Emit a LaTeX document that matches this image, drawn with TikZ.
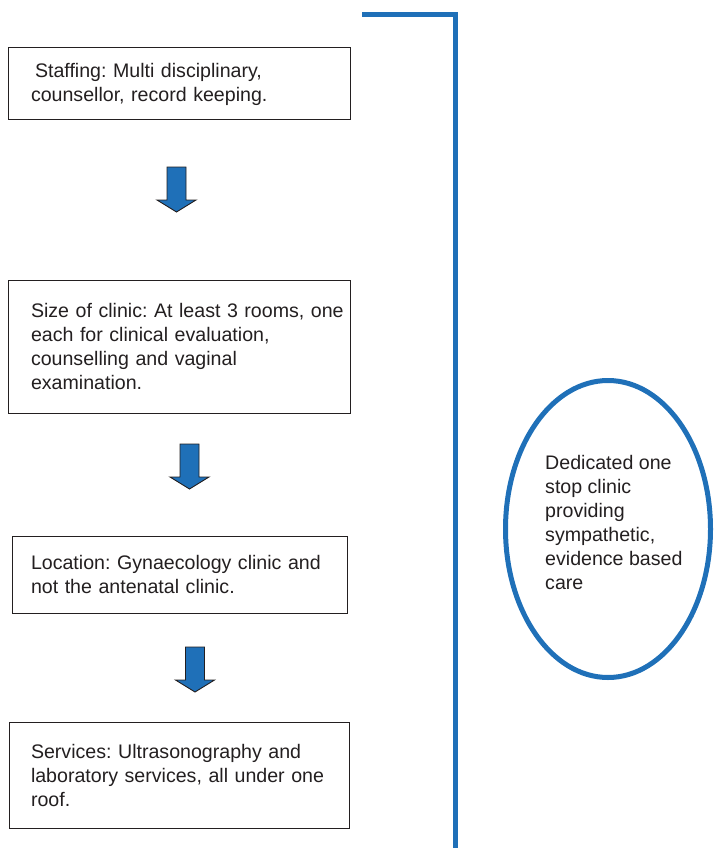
\documentclass[tikz,border=0pt]{standalone}
\usepackage{fontspec}
\setmainfont{Liberation Sans}
\frenchspacing
\usetikzlibrary{shapes.geometric}
\definecolor{clinicblue}{HTML}{1F70B8}
\definecolor{inkgray}{HTML}{231F20}
\newcommand{\boxfont}{\fontsize{19.6}{24}\selectfont}
\tikzset{
  box/.style={draw=inkgray, line width=1pt, inner xsep=23pt, inner ysep=0pt,
    text width=296pt, align=left, font=\boxfont, text=inkgray},
  blockarrow/.style={fill=clinicblue, draw=inkgray, line width=0.9pt, line join=miter},
  bracket/.style={draw=clinicblue, line width=5pt},
  oval/.style={ellipse, draw=clinicblue, line width=5pt, inner sep=0pt},
}
\begin{document}
\begin{tikzpicture}[x=1pt, y=-1pt]
\useasboundingbox (0,0) rectangle (715,848);
% left column
\node[box, minimum height=72pt] (staffing) at (179,84)
  {\hspace*{4pt}Staffing: Multi disciplinary,\\counsellor, record keeping.};
\node[box, minimum height=133pt] (size) at (179,346.5)
  {\mbox{Size of clinic: At least 3 rooms, one}\\each for clinical evaluation,\\counselling and vaginal\\examination.};
\node[box, inner xsep=19pt, text width=297pt, minimum height=77pt] (location) at (179.5,574.5)
  {\mbox{Location: Gynaecology clinic and}\\not the antenatal clinic.};
\node[box, inner xsep=22pt, minimum height=106pt] (services) at (179,775)
  {Services: Ultrasonography and\\\mbox{laboratory services, all under one}\\roof.};
% block arrows
\foreach \cx/\cy in {176.5/167, 189.5/444, 195/647}
  \draw[blockarrow] (\cx-9.5,\cy) -- ++(19,0) -- ++(0,33) -- ++(10,0)
    -- (\cx,\cy+45) -- (\cx-19.5,\cy+33) -- ++(10,0) -- cycle;
% bracket and oval
\draw[bracket] (362,15) -- (455.5,15) -- (455.5,848);
\node[oval, minimum width=205pt, minimum height=297pt] (oneStop) at (608,529) {};
\node[anchor=north west, inner sep=0pt, align=left, font=\boxfont, text=inkgray] (oneStopText) at (545,455)
  {Dedicated one\\stop clinic\\providing\\sympathetic,\\evidence based\\care};
\end{tikzpicture}
\end{document}
